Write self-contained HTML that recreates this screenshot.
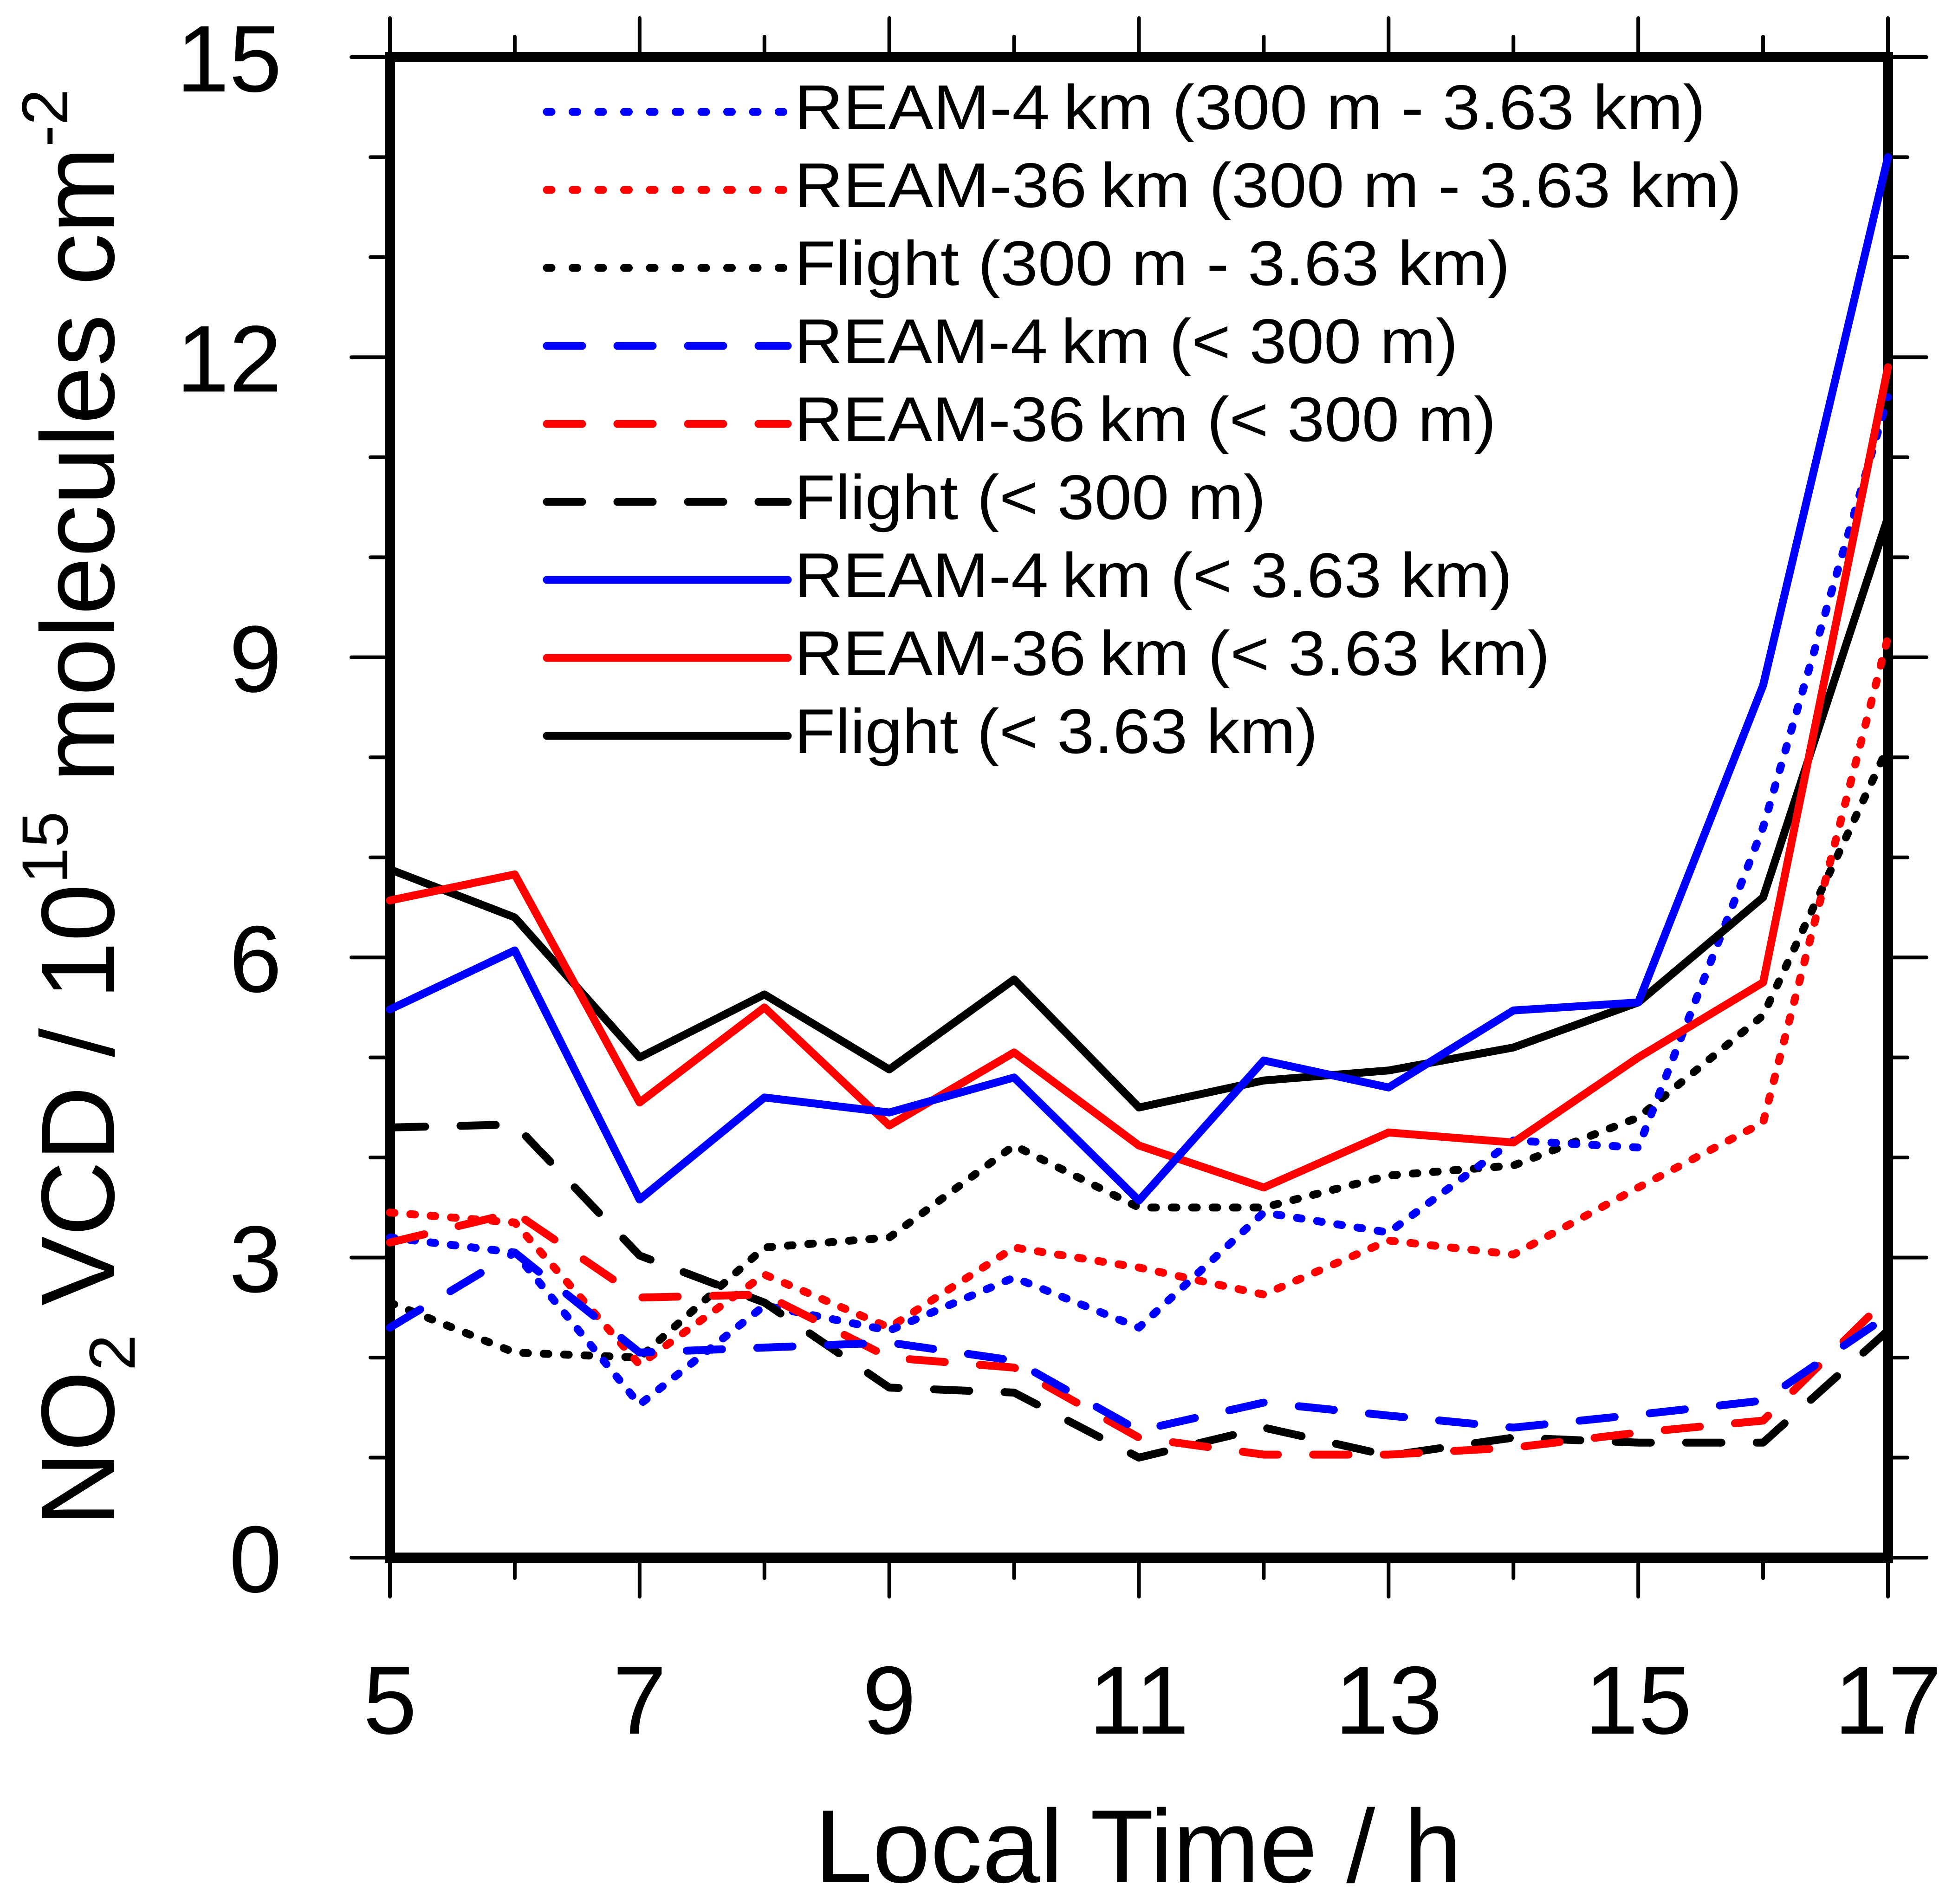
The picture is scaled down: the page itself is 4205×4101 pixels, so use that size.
<!DOCTYPE html>
<html><head><meta charset="utf-8"><style>
html,body{margin:0;padding:0;background:#fff;}
svg{display:block;font-family:"Liberation Sans",sans-serif;}
</style></head><body>
<svg id="chart" width="4205" height="4101" viewBox="0 0 4205 4101" xmlns="http://www.w3.org/2000/svg">
<g id="axes"></g>
<g id="series"></g>
<g id="legend"></g>
<text x="2452" y="4054" font-size="224" text-anchor="middle">Local Time / h</text>
<text transform="translate(245,1740) rotate(-90)" font-size="224" text-anchor="middle">NO<tspan font-size="140" dy="45">2</tspan><tspan dy="-45"> VCD / 10</tspan><tspan font-size="140" dy="-100">15</tspan><tspan dy="100"> molecules cm</tspan><tspan font-size="140" dy="-100">-2</tspan></text>
</svg>
<script>
const hours = [5,6,7,8,9,10,11,12,13,14,15,16,17];
const xTicks = [5,7,9,11,13,15,17];
const yTicks = [0,3,6,9,12,15];
const ream4Total = [5.48,6.07,3.58,4.6,4.45,4.8,3.57,4.97,4.7,5.47,5.55,8.72,14.0];
const ream36Total = [6.57,6.83,4.55,5.5,4.32,5.05,4.12,3.7,4.25,4.15,5.0,5.75,11.9];
const flightTotal = [6.88,6.4,5.0,5.63,4.88,5.78,4.5,4.77,4.87,5.1,5.55,6.6,10.4];
const ream4Low = [2.3,3.05,2.05,2.1,2.15,1.97,1.27,1.55,1.42,1.3,1.43,1.57,2.42];
const ream36Low = [3.15,3.45,2.6,2.63,2.0,1.9,1.2,1.03,1.03,1.1,1.25,1.37,2.6];
const flightLow = [4.3,4.33,3.02,2.55,1.7,1.65,1.0,1.3,1.02,1.2,1.15,1.15,2.27];
const ream4Upper = [3.2,3.05,1.53,2.52,2.27,2.8,2.3,3.45,3.25,4.17,4.1,7.3,11.6];
const ream36Upper = [3.45,3.35,1.93,2.83,2.3,3.1,2.9,2.63,3.17,3.03,3.7,4.35,9.2];
const flightUpper = [2.55,2.05,2.0,3.1,3.2,4.12,3.5,3.5,3.82,3.92,4.4,5.42,8.1];
const legendLabels = ["REAM-4\u2009km (300 m - 3.63 km)","REAM-36\u2009km (300 m - 3.63 km)","Flight (300 m - 3.63 km)","REAM-4\u2009km (< 300 m)","REAM-36\u2009km (< 300 m)","Flight (< 300 m)","REAM-4\u2009km (< 3.63 km)","REAM-36\u2009km (< 3.63 km)","Flight (< 3.63 km)"];

const NS="http://www.w3.org/2000/svg";
const L=840,R=4067,T=123,B=3355;
const X=v=>L+(v-5)/12*(R-L);
const Y=v=>B-v/15*(B-T);
function mk(tag,attrs,parent){const e=document.createElementNS(NS,tag);for(const k in attrs)e.setAttribute(k,attrs[k]);parent.appendChild(e);return e;}
const axes=document.getElementById('axes');
for(let h=5;h<=17;h++){
  const major=xTicks.includes(h);const len=major?84:44;
  const t1=mk('line',{x1:X(h),x2:X(h),y1:B,y2:B+len,stroke:'#000','stroke-width':8,'stroke-linecap':'round'},axes);
  
  
  const t2=mk('line',{x1:X(h),x2:X(h),y1:T,y2:T-len,stroke:'#000','stroke-width':8,'stroke-linecap':'round'},axes);
  
  
}
xTicks.forEach(h=>{
  const t=mk('text',{x:X(h),y:3734,'font-size':208,'text-anchor':'middle'},axes);t.textContent=h;
  
  
});
for(let v=0;v<=15;v++){
  const major=yTicks.includes(v);const len=major?83:42;
  const a=mk('line',{x1:L,x2:L-len,y1:Y(v),y2:Y(v),stroke:'#000','stroke-width':8,'stroke-linecap':'round'},axes);
  
  
  const b=mk('line',{x1:R,x2:R+len,y1:Y(v),y2:Y(v),stroke:'#000','stroke-width':8,'stroke-linecap':'round'},axes);
  
  
}
yTicks.forEach(v=>{
  const t=mk('text',{x:607,y:Y(v)+74,'font-size':204,'text-anchor':'end'},axes);t.textContent=v;
  
  
});
const ser=document.getElementById('series');
const styles={dot:'10 34',dash:'76 76',solid:'none'};
const seriesList=[
 [ream4Upper,'#0000ff','dot','ream4-upper-line'],
 [ream36Upper,'#ff0000','dot','ream36-upper-line'],
 [flightUpper,'#000','dot','flight-upper-line'],
 [ream4Low,'#0000ff','dash','ream4-low-line'],
 [ream36Low,'#ff0000','dash','ream36-low-line'],
 [flightLow,'#000','dash','flight-low-line'],
 [ream4Total,'#0000ff','solid','ream4-total-line'],
 [ream36Total,'#ff0000','solid','ream36-total-line'],
 [flightTotal,'#000','solid','flight-total-line']];
const drawOrder=[2,1,0,5,4,3,8,7,6];
drawOrder.forEach(i=>{
  const [d,c,s,n]=seriesList[i];
  const pts=d.map((v,j)=>X(hours[j])+','+Y(v)).join(' ');
  const p=mk('polyline',{points:pts,fill:'none',stroke:c,'stroke-width':17,'stroke-linecap':'round','stroke-linejoin':'round'},ser);
  if(styles[s]!=='none')p.setAttribute('stroke-dasharray',styles[s]);
  
  
});
const fr=mk('rect',{x:L,y:T,width:R-L,height:B-T,fill:'none',stroke:'#000','stroke-width':22},axes);


const leg=document.getElementById('legend');
const widths=[1963,2041,1542,1430,1512,1016,1547,1628,1128];
seriesList.forEach((sdef,i)=>{
  const y=241+i*168;
  const g=mk('g',{},leg);
  
  
  const ln=mk('line',{x1:1178,x2:1697,y1:y,y2:y,stroke:sdef[1],'stroke-width':17,'stroke-linecap':'round'},g);
  if(styles[sdef[2]]!=='none')ln.setAttribute('stroke-dasharray',sdef[2]==='dot'?'10 45.5':'76 76');
  
  
  const t=mk('text',{x:1711,y:y+37,'font-size':136,textLength:widths[i],lengthAdjust:'spacingAndGlyphs'},g);
  t.textContent=legendLabels[i];
  
  
});
</script>
</body></html>
